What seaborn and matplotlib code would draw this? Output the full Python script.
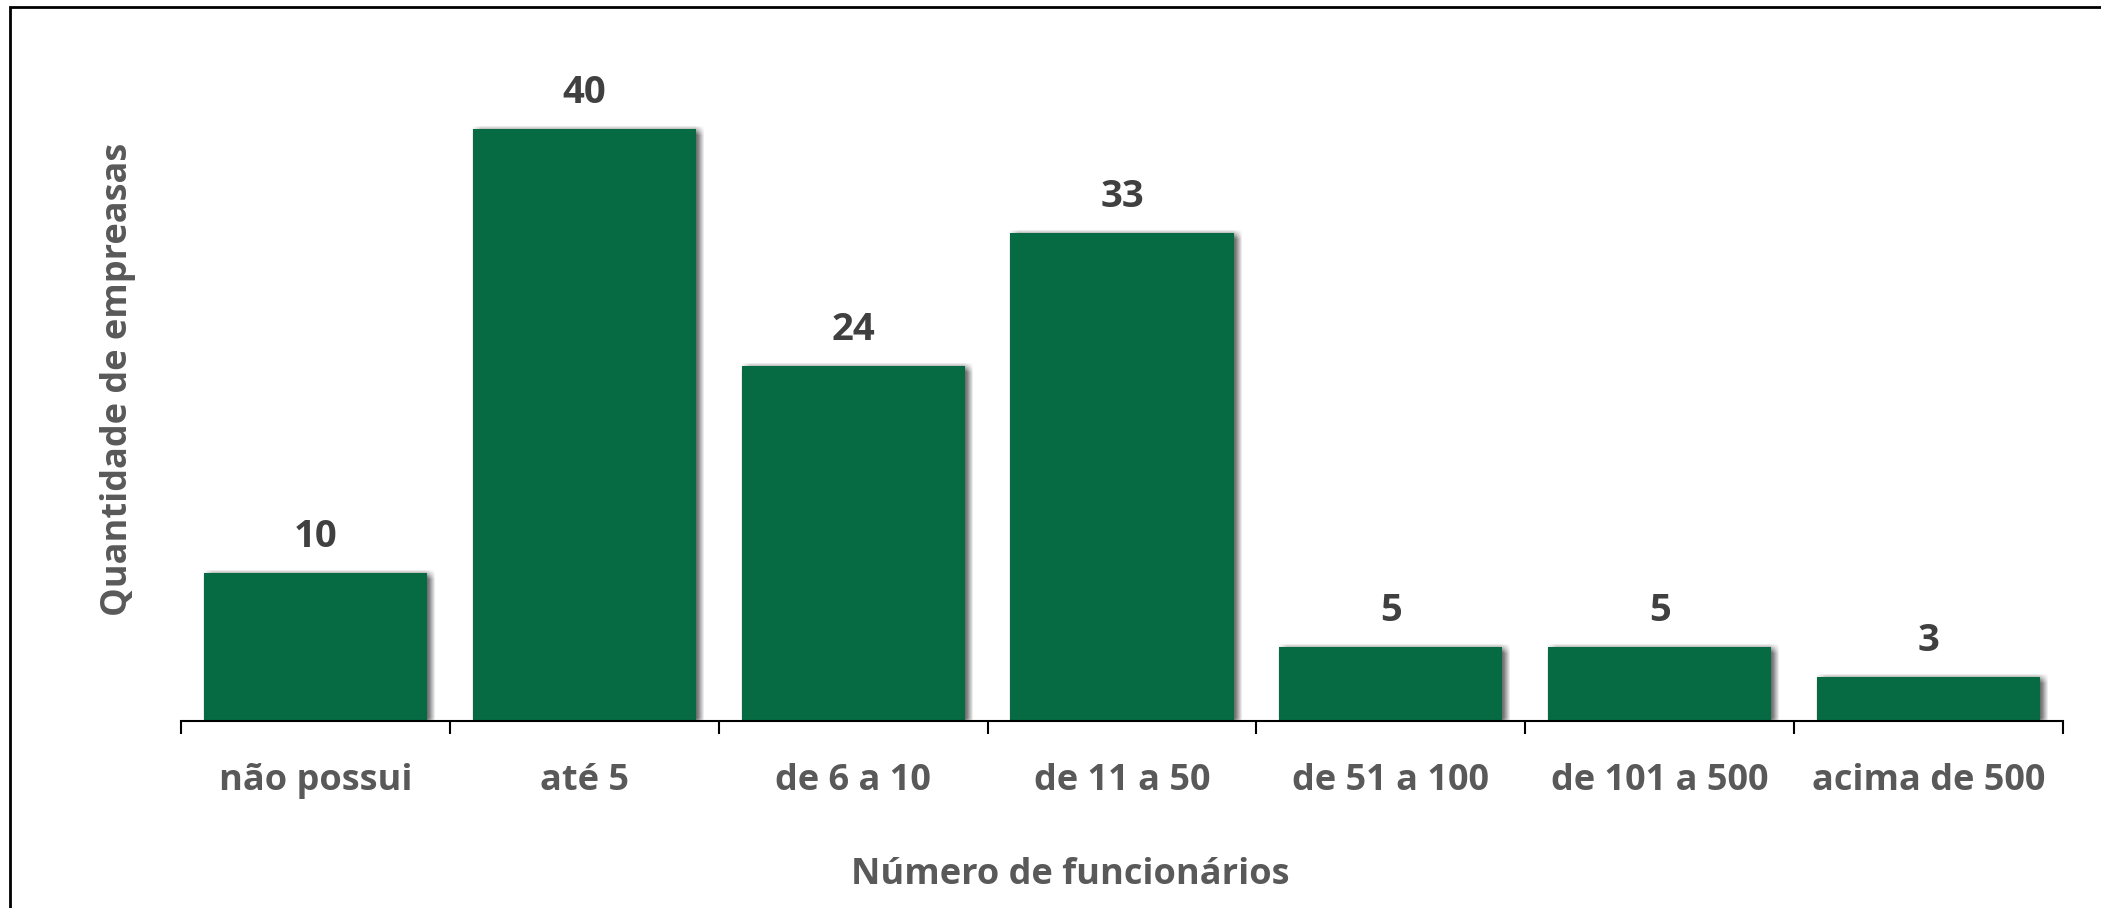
import matplotlib
matplotlib.use("Agg")
import matplotlib.pyplot as plt
import matplotlib.patheffects as pe
from matplotlib.patches import Rectangle
import seaborn as sns
import numpy as np

categorias = ["não possui", "até 5", "de 6 a 10", "de 11 a 50",
              "de 51 a 100", "de 101 a 500", "acima de 500"]
empresas = [10, 40, 24, 33, 5, 5, 3]

verde = "#066a43"
cinza_txt = "#595959"
cinza_val = "#404040"

sns.set_theme(style="white")
plt.rcParams['font.family'] = ['Open Sans', 'DejaVu Sans']
plt.rcParams['font.weight'] = 'bold'
fs = 26

W, H = 2101, 908
fig = plt.figure(figsize=(W / 100, H / 100), dpi=100)
ax = fig.add_axes([181 / W, 1 - 721 / H, (2063 - 181) / W, 666 / H])

sns.barplot(x=categorias, y=empresas, color=verde, saturation=1,
            width=0.83, linewidth=0, ax=ax, zorder=3)

# sombra desfocada
sombras = []
for dx in range(-1, 9):
    for dy in range(-6, 4):
        sombras.append(pe.SimplePatchShadow(offset=(dx * 0.72, dy * 0.72),
                                            shadow_rgbFace="black", alpha=0.009))
sombras.append(pe.Normal())
for p in ax.patches:
    p.set_linewidth(0)
    p.set_path_effects(sombras)

ax.set_xlim(-0.5, len(categorias) - 0.5)
ax.set_ylim(0, 45)

for i, v in enumerate(empresas):
    ax.text(i, v + 36 / 14.8, str(v), ha="center", va="center",
            fontsize=fs + 1.5, fontweight="bold", color=cinza_val)

for s in ["top", "right", "left"]:
    ax.spines[s].set_visible(False)
ax.spines["bottom"].set_color("black")
ax.spines["bottom"].set_linewidth(1.5)
ax.spines["bottom"].set_zorder(4)

ax.set_yticks([])
ax.set_xticks(range(len(categorias)))
ax.set_xticklabels(categorias, fontsize=fs, fontweight="bold", color=cinza_txt)
ax.tick_params(axis="x", which="major", length=0, pad=30)
ax.set_xticks(np.arange(-0.5, len(categorias)), minor=True)
ax.tick_params(axis="x", which="minor", length=9, width=1.5, color="black",
               direction="out", bottom=True)

ax.set_xlabel("Número de funcionários", fontsize=fs, fontweight="bold",
              color=cinza_txt)
ax.xaxis.set_label_coords((1070 - 181) / (2063 - 181), -(875 - 721) / 666)
ax.xaxis.label.set_va("center")
ax.set_ylabel("Quantidade de empreasas", fontsize=fs, fontweight="bold",
              color=cinza_txt)
ax.yaxis.set_label_coords(-(181 - 118) / (2063 - 181), (721 - 379) / 666)
ax.yaxis.label.set_va("center")

fig.patches.append(Rectangle((10 / W, -0.1), 1.2, 1.1 - 7 / H,
                             transform=fig.transFigure, fill=False,
                             edgecolor="black", linewidth=2))

fig.savefig("out.png", dpi=100)
